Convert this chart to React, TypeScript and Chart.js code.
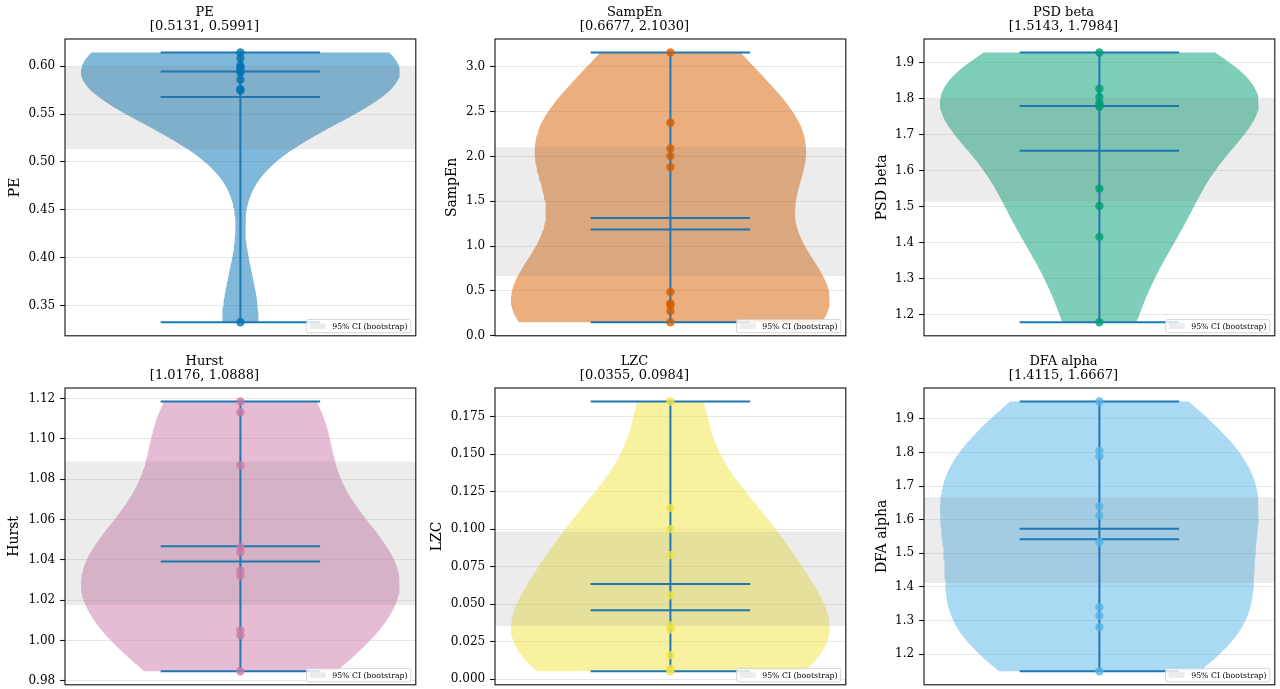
import React, { useEffect, useRef } from 'react';
import { Chart, registerables } from 'chart.js';

Chart.register(...registerables);

// ---------------- data ----------------
const metricNames = ['PE', 'SampEn', 'PSD beta', 'Hurst', 'LZC', 'DFA alpha'];

const peValues = [0.6142, 0.6079, 0.6006, 0.5985, 0.5954, 0.5933, 0.5857, 0.5760, 0.5745, 0.3326];
const sampEnValues = [3.160, 2.376, 2.089, 2.004, 1.881, 0.488, 0.359, 0.340, 0.276, 0.150];
const psdBetaValues = [1.9277, 1.827, 1.804, 1.788, 1.781, 1.777, 1.550, 1.502, 1.416, 1.179];
const hurstValues = [1.1185, 1.1132, 1.0868, 1.0463, 1.0438, 1.0347, 1.0321, 1.0051, 1.0026, 0.9848];
const lzcValues = [0.185, 0.114, 0.100, 0.0827, 0.0559, 0.0359, 0.0331, 0.0160, 0.0071, 0.0053];
const dfaAlphaValues = [1.9513, 1.8052, 1.7883, 1.6393, 1.6127, 1.5336, 1.3401, 1.3144, 1.2809, 1.1494];

const ciLow = [0.5131, 0.6677, 1.5143, 1.0176, 0.0355, 1.4115];
const ciHigh = [0.5991, 2.1030, 1.7984, 1.0888, 0.0984, 1.6667];

const peTicks = [0.35, 0.40, 0.45, 0.50, 0.55, 0.60];
const sampEnTicks = [0.0, 0.5, 1.0, 1.5, 2.0, 2.5, 3.0];
const psdBetaTicks = [1.2, 1.3, 1.4, 1.5, 1.6, 1.7, 1.8, 1.9];
const hurstTicks = [0.98, 1.00, 1.02, 1.04, 1.06, 1.08, 1.10, 1.12];
const lzcTicks = [0.000, 0.025, 0.050, 0.075, 0.100, 0.125, 0.150, 0.175];
const dfaAlphaTicks = [1.2, 1.3, 1.4, 1.5, 1.6, 1.7, 1.8, 1.9];
const tickDecimals = [2, 1, 1, 2, 3, 1];

const legendLabel = '95% CI (bootstrap)';

const seriesValues = [peValues, sampEnValues, psdBetaValues, hurstValues, lzcValues, dfaAlphaValues];
const seriesTicks = [peTicks, sampEnTicks, psdBetaTicks, hurstTicks, lzcTicks, dfaAlphaTicks];

// ---------------- styles ----------------
const colors = ['#0072B2', '#D55E00', '#009E73', '#CC79A7', '#F0E442', '#56B4E9'];
const FONT = "'DejaVu Serif', serif";
const LINE_COLOR = '#1f77b4';
const AX_W = 351;
const AX_H = 297;
const Y_W = 72;
const CANVAS_W = Y_W + AX_W + 4;
const CANVAS_H = 39 + AX_H + 4;
const panelLayout = [
  { axLeft: 65, axTop: 39, labelX: 22 },
  { axLeft: 495, axTop: 39, labelX: 29.5 },
  { axLeft: 924, axTop: 39, labelX: 30.5 },
  { axLeft: 65, axTop: 388, labelX: 21.5 },
  { axLeft: 495, axTop: 388, labelX: 14.5 },
  { axLeft: 924, axTop: 388, labelX: 30.5 },
];
const POS = 1;
const VIOLIN_WIDTH = 0.5;
const X_MIN = POS - VIOLIN_WIDTH / 2 - 0.025;
const X_MAX = POS + VIOLIN_WIDTH / 2 + 0.025;

function rgba(hex: string, a: number) {
  const n = parseInt(hex.slice(1), 16);
  return `rgba(${(n >> 16) & 255},${(n >> 8) & 255},${n & 255},${a})`;
}

// Gaussian KDE (Scott's rule), like matplotlib's violinplot
function violinOutline(values: number[]) {
  const n = values.length;
  const mean = values.reduce((s, v) => s + v, 0) / n;
  const variance = values.reduce((s, v) => s + (v - mean) ** 2, 0) / (n - 1);
  const bw = Math.sqrt(variance) * Math.pow(n, -0.2);
  const lo = Math.min(...values);
  const hi = Math.max(...values);
  const count = 100;
  const ys: number[] = [];
  const dens: number[] = [];
  for (let i = 0; i < count; i++) {
    const y = lo + ((hi - lo) * i) / (count - 1);
    ys.push(y);
    dens.push(values.reduce((s, v) => s + Math.exp(-0.5 * ((y - v) / bw) ** 2), 0));
  }
  const dMax = Math.max(...dens);
  const half = dens.map((d) => (d / dMax) * (VIOLIN_WIDTH / 2));
  const pts: { x: number; y: number }[] = [];
  for (let i = 0; i < count; i++) pts.push({ x: POS - half[i], y: ys[i] });
  for (let i = count - 1; i >= 0; i--) pts.push({ x: POS + half[i], y: ys[i] });
  return pts;
}

function median(values: number[]) {
  const s = [...values].sort((a, b) => a - b);
  const m = Math.floor(s.length / 2);
  return s.length % 2 ? s[m] : (s[m - 1] + s[m]) / 2;
}

const framePlugin = {
  id: 'frameAndLegend',
  afterDraw(chart: any) {
    const { ctx, chartArea: a } = chart;
    ctx.save();
    ctx.strokeStyle = '#111';
    ctx.lineWidth = 1.1;
    ctx.strokeRect(a.left, a.top, a.right - a.left, a.bottom - a.top);

    ctx.font = `7.8px ${FONT}`;
    const tw = ctx.measureText(legendLabel).width;
    const pad = 3.2, hl = 16, htp = 6.4;
    const w = pad + hl + htp + tw + pad;
    const h = 13.4;
    const x = a.right - 5 - w;
    const y = a.bottom - 3 - h;
    const r = 2;
    ctx.beginPath();
    ctx.moveTo(x + r, y);
    ctx.lineTo(x + w - r, y);
    ctx.quadraticCurveTo(x + w, y, x + w, y + r);
    ctx.lineTo(x + w, y + h - r);
    ctx.quadraticCurveTo(x + w, y + h, x + w - r, y + h);
    ctx.lineTo(x + r, y + h);
    ctx.quadraticCurveTo(x, y + h, x, y + h - r);
    ctx.lineTo(x, y + r);
    ctx.quadraticCurveTo(x, y, x + r, y);
    ctx.closePath();
    ctx.fillStyle = 'rgba(255,255,255,0.8)';
    ctx.fill();
    ctx.strokeStyle = 'rgba(204,204,204,0.8)';
    ctx.lineWidth = 1;
    ctx.stroke();
    ctx.fillStyle = 'rgba(128,128,128,0.15)';
    ctx.fillRect(x + pad, y + h / 2 - 2.8, hl, 5.6);
    ctx.fillStyle = '#000';
    ctx.textBaseline = 'middle';
    ctx.textAlign = 'left';
    ctx.fillText(legendLabel, x + pad + hl + htp, y + h / 2 + 0.5);
    ctx.restore();
  },
};

function ViolinPanel({ idx }: { idx: number }) {
  const ref = useRef<HTMLCanvasElement>(null);
  const L = panelLayout[idx];
  useEffect(() => {
    const values = seriesValues[idx];
    const ticks = seriesTicks[idx];
    const dec = tickDecimals[idx];
    const color = colors[idx];
    const vMin = Math.min(...values);
    const vMax = Math.max(...values);
    const vMean = values.reduce((s, v) => s + v, 0) / values.length;
    const vMed = median(values);
    const margin = (vMax - vMin) * 0.05;
    const lineHalf = VIOLIN_WIDTH / 4;
    const hLine = (v: number) => ({
      type: 'line',
      data: [{ x: POS - lineHalf, y: v }, { x: POS + lineHalf, y: v }],
      borderColor: LINE_COLOR,
      borderWidth: 2,
      pointRadius: 0,
      fill: false,
      order: 5,
    });
    const chart = new Chart(ref.current!, {
      type: 'scatter',
      data: {
        datasets: [
          {
            type: 'line',
            data: violinOutline(values),
            fill: 'shape',
            backgroundColor: rgba(color, 0.5),
            borderWidth: 0,
            pointRadius: 0,
            order: 10,
          },
          {
            type: 'line',
            data: [
              { x: X_MIN, y: ciLow[idx] },
              { x: X_MAX, y: ciLow[idx] },
              { x: X_MAX, y: ciHigh[idx] },
              { x: X_MIN, y: ciHigh[idx] },
            ],
            fill: 'shape',
            backgroundColor: 'rgba(128,128,128,0.15)',
            borderWidth: 0,
            pointRadius: 0,
            order: 9,
          },
          {
            type: 'line',
            data: [{ x: POS, y: vMin }, { x: POS, y: vMax }],
            borderColor: LINE_COLOR,
            borderWidth: 2,
            pointRadius: 0,
            fill: false,
            order: 5,
          },
          hLine(vMax),
          hLine(vMin),
          hLine(vMean),
          hLine(vMed),
          {
            type: 'scatter',
            data: values.map((v) => ({ x: POS, y: v })),
            backgroundColor: rgba(color, 0.8),
            borderWidth: 0,
            pointRadius: 4.2,
            order: 1,
          },
        ] as any,
      },
      options: {
        animation: false,
        responsive: false,
        maintainAspectRatio: false,
        devicePixelRatio: 1,
        events: [],
        layout: { padding: { left: 0, right: 4, top: 0, bottom: 4 } },
        plugins: {
          legend: { display: false },
          tooltip: { enabled: false },
          title: {
            display: true,
            text: [metricNames[idx], `[${ciLow[idx].toFixed(4)}, ${ciHigh[idx].toFixed(4)}]`],
            font: { family: FONT, size: 13, weight: 'normal', lineHeight: '14px' },
            color: '#000',
            padding: { top: 5.7, bottom: 5.3 },
          },
        },
        scales: {
          x: { type: 'linear', min: X_MIN, max: X_MAX, display: false },
          y: {
            type: 'linear',
            min: vMin - margin,
            max: vMax + margin,
            afterBuildTicks: (s: any) => {
              s.ticks = ticks.map((v) => ({ value: v }));
            },
            afterFit: (s: any) => {
              s.width = Y_W;
              s.paddingTop = 0;
              s.paddingBottom = 0;
            },
            ticks: {
              font: { family: FONT, size: 12 },
              color: '#000',
              padding: 4.9,
              autoSkip: false,
              callback: (v: any) => Number(v).toFixed(dec),
            },
            grid: {
              color: 'rgba(176,176,176,0.3)',
              lineWidth: 1,
              tickColor: '#111',
              tickLength: 4.9,
              tickWidth: 1.1,
              drawTicks: true,
            },
            border: { display: false },
            title: {
              display: true,
              text: metricNames[idx],
              font: { family: FONT, size: 14, weight: 'normal' },
              color: '#000',
              padding: { top: L.labelX - 8.4, bottom: 0 },
            },
          },
        },
      } as any,
      plugins: [framePlugin],
    } as any);
    return () => chart.destroy();
  }, [idx]);
  return (
    <canvas
      ref={ref}
      width={CANVAS_W}
      height={CANVAS_H}
      style={{
        position: 'absolute',
        left: L.axLeft - Y_W,
        top: L.axTop - 39,
        width: CANVAS_W,
        height: CANVAS_H,
      }}
    />
  );
}

export default function App() {
  return (
    <div
      style={{
        position: 'fixed',
        left: 0,
        top: 0,
        width: 1280,
        height: 689,
        background: '#fff',
        overflow: 'hidden',
      }}
    >
      {metricNames.map((_, i) => (
        <ViolinPanel key={i} idx={i} />
      ))}
    </div>
  );
}
